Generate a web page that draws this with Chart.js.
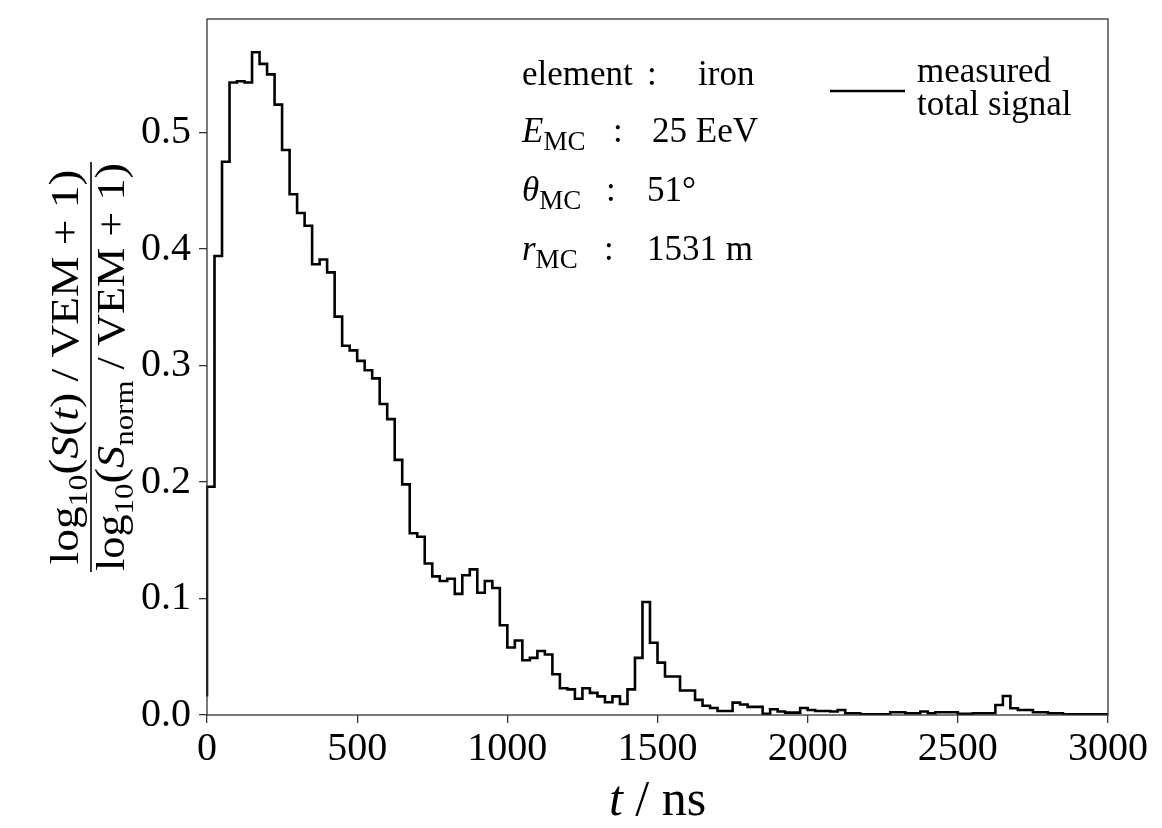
<!DOCTYPE html>
<html lang="en">
<head>
  <meta charset="UTF-8">
  <title>Measured total signal trace</title>
  <style>
    html, body { margin: 0; padding: 0; background: #ffffff; }
    #wrap { width: 1162px; height: 828px; }
  </style>
  <script src="https://cdn.jsdelivr.net/npm/chart.js"></script>
</head>
<body>
  <div id="wrap"><canvas id="traceChart" width="1162" height="828"></canvas></div>

  <script>
    // histogram: 25 ns bins, first bin starts at -25 ns (only its edge at t=0 is visible)
    const binWidth = 25;
    const firstBinStart = -25;
    const signal = [
      0.017,
      0.196, 0.394, 0.475, 0.543, 0.544, 0.543, 0.569, 0.559, 0.550, 0.524,
      0.485, 0.447, 0.431, 0.420, 0.387, 0.391, 0.380, 0.342, 0.317, 0.313,
      0.304, 0.296, 0.289, 0.267, 0.254, 0.219, 0.198, 0.156, 0.153, 0.130,
      0.119, 0.115, 0.117, 0.104, 0.120, 0.125, 0.105, 0.115, 0.109, 0.077,
      0.058, 0.064, 0.047, 0.049, 0.055, 0.052, 0.035, 0.023, 0.022, 0.014,
      0.023, 0.019, 0.016, 0.011, 0.016, 0.0095, 0.022, 0.049, 0.097, 0.062,
      0.045, 0.033, 0.033, 0.021, 0.021, 0.013, 0.008, 0.006, 0.0034, 0.0034,
      0.0106, 0.009, 0.007, 0.007, 0.001, 0.005, 0.003, 0.002, 0.002, 0.006,
      0.0043, 0.0034, 0.0034, 0.003, 0.0043, 0.0015, 0.0015, 0.0005, 0.0005, 0.0005,
      0.0005, 0.0023, 0.0023, 0.0015, 0.0015, 0.003, 0.0015, 0.0023, 0.0023, 0.0023,
      0.001, 0.001, 0.0015, 0.0015, 0.0015, 0.0086, 0.0163, 0.0058, 0.0043, 0.0043,
      0.0023, 0.0023, 0.0015, 0.0015, 0.0006, 0.0006, 0.0006, 0.0006, 0.0006, 0.0006
    ];

    const xTicks = [0, 500, 1000, 1500, 2000, 2500, 3000];
    const yTicks = [0.0, 0.1, 0.2, 0.3, 0.4, 0.5];
    const xRange = [0, 3000];
    const yRange = [0, 0.5975];

    const infoNames = ['element', 'E', 'θ', 'r'];
    const infoSubs = ['', 'MC', 'MC', 'MC'];
    const infoValues = ['iron', '25 EeV', '51°', '1531 m'];
    const legendLines = ['measured', 'total signal'];

    const FONT = '"Liberation Serif", "DejaVu Serif", serif';

    // step points: bin start edges, plus closing edge of the last bin
    const points = signal.map((v, i) => ({ x: firstBinStart + i * binWidth, y: v }));
    points.push({ x: firstBinStart + signal.length * binWidth, y: signal[signal.length - 1] });

    function fontStr(r) {
      return (r.it ? 'italic ' : '') + r.s + 'px ' + FONT;
    }
    function runsWidth(ctx, runs) {
      let w = 0;
      runs.forEach(r => { ctx.font = fontStr(r); w += ctx.measureText(r.t).width; });
      return w;
    }
    function drawRuns(ctx, runs, x, y) {
      ctx.textAlign = 'left';
      ctx.textBaseline = 'alphabetic';
      let cx = x;
      runs.forEach(r => {
        ctx.font = fontStr(r);
        ctx.fillText(r.t, cx, y + (r.dy || 0));
        cx += ctx.measureText(r.t).width;
      });
    }

    const numRuns = [
      { t: 'log', s: 40 }, { t: '10', s: 28, dy: 9 }, { t: '(', s: 42 }, { t: 'S', s: 40, it: true },
      { t: '(', s: 40 }, { t: 't', s: 40, it: true }, { t: ')', s: 40 }, { t: ' / ', s: 40 },
      { t: 'VEM', s: 40 }, { t: ' + ', s: 40 }, { t: '1', s: 40 }, { t: ')', s: 42 }
    ];
    const denRuns = [
      { t: 'log', s: 40 }, { t: '10', s: 28, dy: 9 }, { t: '(', s: 42 }, { t: 'S', s: 40, it: true },
      { t: 'norm', s: 28, dy: 9 }, { t: ' / ', s: 40 }, { t: 'VEM', s: 40 }, { t: ' + ', s: 40 },
      { t: '1', s: 40 }, { t: ')', s: 42 }
    ];

    const decor = {
      id: 'decor',
      afterDatasetsDraw(chart) {
        const { ctx, chartArea: a } = chart;
        ctx.save();
        ctx.strokeStyle = '#333';
        ctx.lineWidth = 1.3;
        ctx.strokeRect(a.left, a.top, a.right - a.left, a.bottom - a.top);
        ctx.restore();
      },
      afterDraw(chart) {
        const { ctx, chartArea: a } = chart;
        ctx.save();
        ctx.fillStyle = '#000';

        // y label as a fraction, rotated
        const cy = (a.top + a.bottom) / 2;
        ctx.save();
        ctx.translate(91, cy);
        ctx.rotate(-Math.PI / 2);
        [[numRuns, 395, -13], [denRuns, 408, 33]].forEach(([runs, target, base]) => {
          const w = runsWidth(ctx, runs);
          const k = target / w;
          ctx.save();
          ctx.scale(k, 1);
          drawRuns(ctx, runs, -w / 2, base);
          ctx.restore();
        });
        ctx.strokeStyle = '#000';
        ctx.lineWidth = 1.6;
        ctx.beginPath();
        ctx.moveTo(-205, 0);
        ctx.lineTo(205, 0);
        ctx.stroke();
        ctx.restore();

        // x title
        const xt = [{ t: 't', s: 50, it: true }, { t: ' / ns', s: 50 }];
        drawRuns(ctx, xt, (a.left + a.right) / 2 - runsWidth(ctx, xt) / 2, 815);

        // info block
        const nameX = 522;
        const colonX = [647, 613, 606, 604];
        const valueX = [698, 652, 647, 647];
        const baseY = [85, 142, 201, 260];
        infoNames.forEach((n, i) => {
          const runs = [{ t: n, s: 35, it: i > 0 }];
          if (infoSubs[i]) runs.push({ t: infoSubs[i], s: 27, dy: 8 });
          drawRuns(ctx, runs, nameX, baseY[i]);
          drawRuns(ctx, [{ t: ':', s: 35 }], colonX[i], baseY[i]);
          drawRuns(ctx, [{ t: infoValues[i], s: 35 }], valueX[i], baseY[i]);
        });

        // legend
        ctx.strokeStyle = '#000';
        ctx.lineWidth = 2.6;
        ctx.beginPath();
        ctx.moveTo(830, 91);
        ctx.lineTo(905, 91);
        ctx.stroke();
        drawRuns(ctx, [{ t: legendLines[0], s: 35 }], 917, 82);
        drawRuns(ctx, [{ t: legendLines[1], s: 35 }], 917, 115);
        ctx.restore();
      }
    };

    const axisGrid = { drawOnChartArea: false, drawTicks: true, tickLength: 8, color: '#333', lineWidth: 1.3 };
    const tickFont = { family: FONT, size: 40 };

    new Chart(document.getElementById('traceChart'), {
      type: 'line',
      data: {
        datasets: [{
          data: points,
          stepped: 'before',
          borderColor: '#000',
          borderWidth: 2.6,
          pointRadius: 0,
          fill: false,
          clip: { left: 1, top: 5, right: 0, bottom: 0 }
        }]
      },
      options: {
        responsive: false,
        animation: false,
        devicePixelRatio: 1,
        layout: { padding: { left: 0, top: 19, right: 54, bottom: 0 } },
        plugins: { legend: { display: false }, tooltip: { enabled: false } },
        scales: {
          x: {
            type: 'linear',
            min: xRange[0],
            max: xRange[1],
            afterBuildTicks: s => { s.ticks = xTicks.map(v => ({ value: v })); },
            afterFit: s => { s.height = 113; s.paddingLeft = 0; s.paddingRight = 0; },
            ticks: { font: tickFont, color: '#000', padding: 2, maxRotation: 0, autoSkip: false, callback: v => String(v) },
            grid: axisGrid,
            border: { display: false }
          },
          y: {
            min: yRange[0],
            max: yRange[1],
            afterBuildTicks: s => { s.ticks = yTicks.map(v => ({ value: v })); },
            afterFit: s => { s.width = 207; s.paddingTop = 0; s.paddingBottom = 0; },
            ticks: { font: tickFont, color: '#000', padding: 8, callback: v => v.toFixed(1) },
            grid: axisGrid,
            border: { display: false }
          }
        }
      },
      plugins: [decor]
    });
  </script>
</body>
</html>
